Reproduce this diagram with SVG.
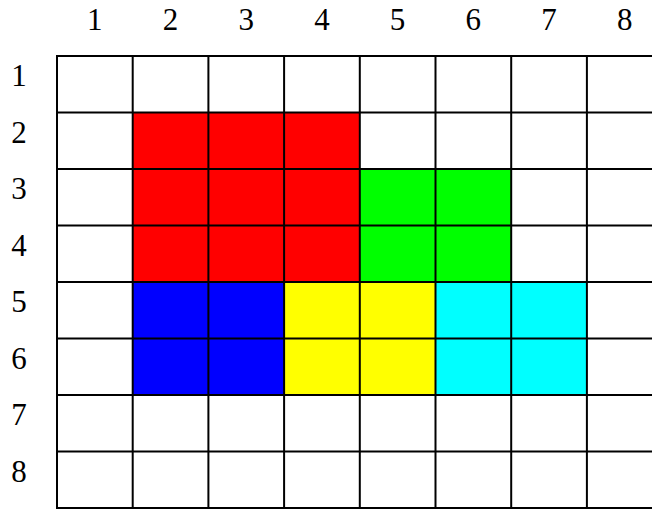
<svg xmlns="http://www.w3.org/2000/svg" width="652" height="510" viewBox="0 0 652 510">
<style>
text{font-family:"Liberation Serif","Times New Roman",serif;font-size:31px;fill:#000;text-anchor:middle}
.g{stroke:#000;stroke-width:2;fill:none}
</style>
<rect width="652" height="510" fill="#fff"/>
<g id="cells">
<rect x="132.7" y="112.5" width="227.1" height="169.5" fill="#ff0000"/>
<rect x="359.8" y="169" width="151.4" height="113" fill="#00ff00"/>
<rect x="132.7" y="282" width="151.4" height="113" fill="#0000ff"/>
<rect x="284.1" y="282" width="151.4" height="113" fill="#ffff00"/>
<rect x="435.5" y="282" width="151.4" height="113" fill="#00ffff"/>
</g>
<g id="grid" class="g">
<path d="M57 55V509M132.7 55V509M208.4 55V509M284.1 55V509M359.8 55V509M435.5 55V509M511.2 55V509M586.9 55V509"/>
<path d="M57 56H664M57 112.5H664M57 169H664M57 225.5H664M57 282H664M57 338.5H664M57 395H664M57 451.5H664M57 508H664"/>
</g>
<g id="col-labels">
<text x="94.8" y="30">1</text>
<text x="170.5" y="30">2</text>
<text x="246.2" y="30">3</text>
<text x="321.9" y="30">4</text>
<text x="397.6" y="30">5</text>
<text x="473.3" y="30">6</text>
<text x="549" y="30">7</text>
<text x="624.7" y="30">8</text>
</g>
<g id="row-labels">
<text x="19" y="86">1</text>
<text x="19" y="142.5">2</text>
<text x="19" y="199">3</text>
<text x="19" y="255.5">4</text>
<text x="19" y="312">5</text>
<text x="19" y="368.5">6</text>
<text x="19" y="425">7</text>
<text x="19" y="481.5">8</text>
</g>
</svg>
